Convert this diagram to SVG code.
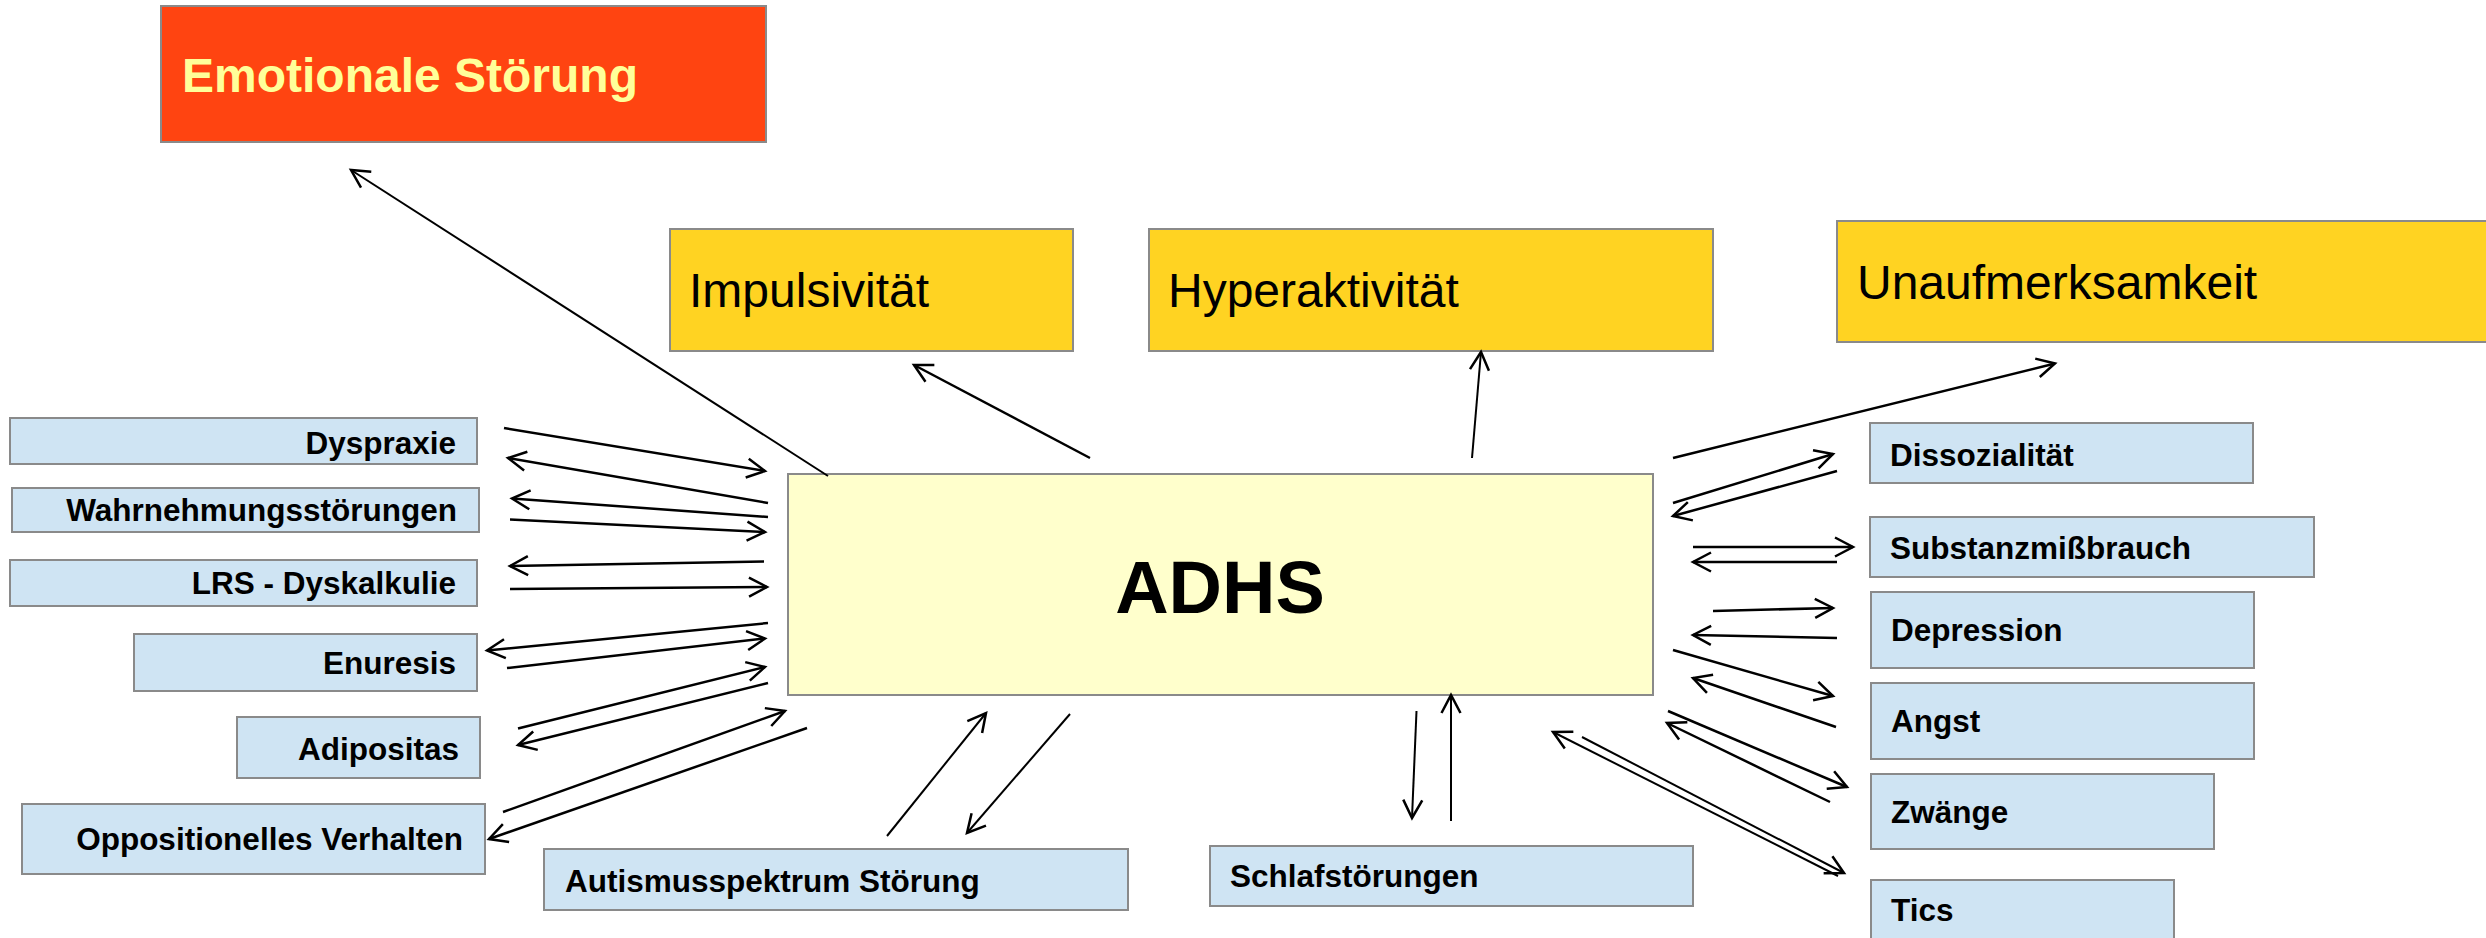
<svg xmlns="http://www.w3.org/2000/svg" width="2486" height="938" viewBox="0 0 2486 938">
<style>
.box{stroke:#8a8a8a;stroke-width:2}
.blue{fill:#cfe4f3}
.yel{fill:#ffd322}
.lbl{font-family:"Liberation Sans",Arial,sans-serif;font-weight:bold;font-size:31.5px;fill:#000}
.big{font-family:"Liberation Sans",Arial,sans-serif;font-size:48px;fill:#000}
.c line{stroke:#000;stroke-width:2.5;fill:none;marker-end:url(#a)}
.c line.t{stroke-width:2}
</style>
<defs>
<marker id="a" markerUnits="userSpaceOnUse" markerWidth="26" markerHeight="26" viewBox="-23 -13 26 26" refX="0" refY="0" orient="auto">
<path d="M-18,-9.5 L0,0 L-18,9.5" fill="none" stroke="#000" stroke-width="2.5"/>
</marker>
</defs>
<rect width="2486" height="938" fill="#fff"/>

<g id="emotionale">
<rect class="box" x="161" y="6" width="605" height="136" fill="#ff4411"/>
<text x="182" y="92" font-family="Liberation Sans, Arial, sans-serif" font-weight="bold" font-size="48" fill="#ffff99">Emotionale Störung</text>
</g>
<g id="impulsivitaet">
<rect class="box yel" x="670" y="229" width="403" height="122"/>
<text class="big" x="689" y="307">Impulsivität</text>
</g>
<g id="hyperaktivitaet">
<rect class="box yel" x="1149" y="229" width="564" height="122"/>
<text class="big" x="1168" y="307">Hyperaktivität</text>
</g>
<g id="unaufmerksamkeit">
<rect class="box yel" x="1837" y="221" width="670" height="121"/>
<text class="big" x="1857" y="299">Unaufmerksamkeit</text>
</g>
<g id="adhs">
<rect class="box" x="788" y="474" width="865" height="221" fill="#ffffcc"/>
<text x="1220" y="613" text-anchor="middle" font-family="Liberation Sans, Arial, sans-serif" font-weight="bold" font-size="74" fill="#000">ADHS</text>
</g>

<g id="dyspraxie">
<rect class="box blue" x="10" y="418" width="467" height="46"/>
<text class="lbl" x="456" y="454" text-anchor="end">Dyspraxie</text>
</g>
<g id="wahrnehmung">
<rect class="box blue" x="12" y="488" width="467" height="44"/>
<text class="lbl" x="457" y="521" text-anchor="end">Wahrnehmungsstörungen</text>
</g>
<g id="lrs">
<rect class="box blue" x="10" y="560" width="467" height="46"/>
<text class="lbl" x="456" y="594" text-anchor="end">LRS - Dyskalkulie</text>
</g>
<g id="enuresis">
<rect class="box blue" x="134" y="634" width="343" height="57"/>
<text class="lbl" x="456" y="674" text-anchor="end">Enuresis</text>
</g>
<g id="adipositas">
<rect class="box blue" x="237" y="717" width="243" height="61"/>
<text class="lbl" x="459" y="760" text-anchor="end">Adipositas</text>
</g>
<g id="oppositionelles">
<rect class="box blue" x="22" y="804" width="463" height="70"/>
<text class="lbl" x="463" y="850" text-anchor="end">Oppositionelles Verhalten</text>
</g>
<g id="autismus">
<rect class="box blue" x="544" y="849" width="584" height="61"/>
<text class="lbl" x="565" y="892">Autismusspektrum Störung</text>
</g>
<g id="schlaf">
<rect class="box blue" x="1210" y="846" width="483" height="60"/>
<text class="lbl" x="1230" y="887">Schlafstörungen</text>
</g>

<g id="dissozialitaet">
<rect class="box blue" x="1870" y="423" width="383" height="60"/>
<text class="lbl" x="1890" y="466">Dissozialität</text>
</g>
<g id="substanz">
<rect class="box blue" x="1870" y="517" width="444" height="60"/>
<text class="lbl" x="1890" y="559">Substanzmißbrauch</text>
</g>
<g id="depression">
<rect class="box blue" x="1871" y="592" width="383" height="76"/>
<text class="lbl" x="1891" y="641">Depression</text>
</g>
<g id="angst">
<rect class="box blue" x="1871" y="683" width="383" height="76"/>
<text class="lbl" x="1891" y="732">Angst</text>
</g>
<g id="zwaenge">
<rect class="box blue" x="1871" y="774" width="343" height="75"/>
<text class="lbl" x="1891" y="823">Zwänge</text>
</g>
<g id="tics">
<rect class="box blue" x="1871" y="880" width="303" height="80"/>
<text class="lbl" x="1891" y="921">Tics</text>
</g>

<g id="connectors" class="c">
<line x1="504" y1="428" x2="765" y2="471"/>
<line x1="768" y1="503" x2="508" y2="458"/>
<line x1="768" y1="517" x2="512" y2="498.5"/>
<line x1="510" y1="519.5" x2="765" y2="532"/>
<line x1="764" y1="561.5" x2="510" y2="566"/>
<line x1="510" y1="589" x2="767" y2="587"/>
<line x1="768" y1="623" x2="487" y2="650.5"/>
<line x1="507" y1="668" x2="765" y2="638.5"/>
<line x1="518" y1="728.5" x2="765" y2="667"/>
<line x1="768" y1="683" x2="518" y2="745"/>
<line x1="503" y1="812" x2="785" y2="711"/>
<line x1="807" y1="728" x2="489" y2="839"/>

<line class="t" x1="828" y1="476" x2="351" y2="170"/>
<line x1="1090" y1="458" x2="914" y2="365"/>
<line class="t" x1="1472" y1="458" x2="1481" y2="352"/>
<line x1="1673" y1="458" x2="2055" y2="363.5"/>

<line x1="1673" y1="503" x2="1833" y2="454"/>
<line x1="1837" y1="471" x2="1673" y2="516"/>
<line x1="1693" y1="547" x2="1853" y2="547"/>
<line x1="1837" y1="562" x2="1693" y2="562"/>
<line x1="1713" y1="611" x2="1833" y2="608"/>
<line x1="1837" y1="638" x2="1693" y2="635"/>
<line x1="1673" y1="650" x2="1833" y2="696"/>
<line x1="1836" y1="727" x2="1693" y2="678"/>
<line x1="1668" y1="711" x2="1847" y2="787"/>
<line x1="1830" y1="802" x2="1667" y2="723"/>
<line class="t" x1="1582" y1="737" x2="1844" y2="873"/>
<line class="t" x1="1838" y1="876" x2="1553" y2="732"/>

<line class="t" x1="887" y1="836" x2="986" y2="713"/>
<line class="t" x1="1070" y1="714" x2="967" y2="833"/>
<line class="t" x1="1416.5" y1="711" x2="1412" y2="818"/>
<line class="t" x1="1451" y1="821" x2="1451" y2="695"/>
</g>
</svg>
